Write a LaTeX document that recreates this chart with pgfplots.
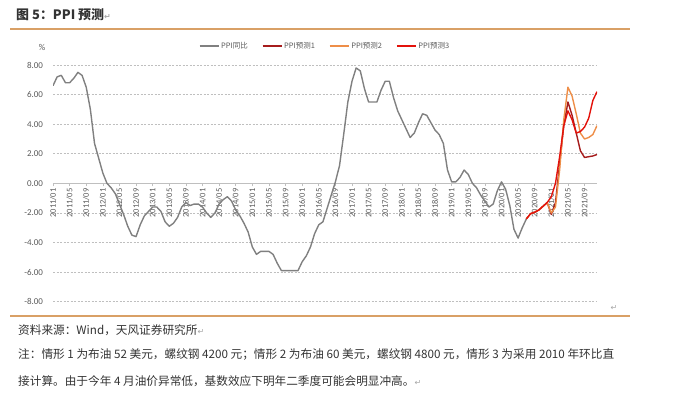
\documentclass[border=0pt]{standalone}
\usepackage{pgfplots}
\pgfplotsset{compat=1.18}
\usepackage{fontspec}
\setmainfont{Noto Sans CJK SC}
\newfontfamily\carlito{Carlito}
\newfontfamily\dejavu{DejaVu Sans}
\definecolor{ppigray}{HTML}{808080}
\definecolor{predA}{HTML}{A61C1C}
\definecolor{predB}{HTML}{EE8E48}
\definecolor{predC}{HTML}{E3120B}
\definecolor{rulec}{HTML}{D9A066}
\definecolor{lblc}{HTML}{595959}
\definecolor{txtc}{HTML}{333333}
\definecolor{gridc}{HTML}{BFBFBF}
\begin{document}
\begin{tikzpicture}
\path[use as bounding box] (0,0) rectangle (675bp,-395bp);
% title
\node[anchor=west, inner sep=0pt, text=txtc, font=\bfseries\fontsize{13}{13}\selectfont] at (16bp,-15bp) {图 5：PPI 预测{\dejavu\fontsize{8}{8}\selectfont\color{gray!70}↵}};
\draw[rulec, line width=1.1bp] (10bp,-29bp) -- (630bp,-29bp);
\node[anchor=center, inner sep=0pt, text=lblc, font=\carlito\fontsize{9}{9}\selectfont] at (42bp,-47bp) {\%};
\begin{axis}[
  at={(53bp,-301.7bp)}, anchor=south west,
  width=544bp, height=236.7bp, scale only axis,
  xmin=0, xmax=131, ymin=-8, ymax=8,
  axis x line=middle, axis y line=left,
  hide obscured x ticks=false,
  x axis line style={draw=gridc, -, line width=0.7bp},
  y axis line style={draw=none},
  ytick={-8,-6,...,8},
  ytick style={draw=none},
  xtick={0,4,...,128},
  xticklabels={2011/01,2011/05,2011/09,2012/01,2012/05,2012/09,2013/01,2013/05,2013/09,2014/01,2014/05,2014/09,2015/01,2015/05,2015/09,2016/01,2016/05,2016/09,2017/01,2017/05,2017/09,2018/01,2018/05,2018/09,2019/01,2019/05,2019/09,2020/01,2020/05,2020/09,2021/01,2021/05,2021/09},
  xtick style={draw=gridc, line width=0.6bp},
  xtick align=outside, major tick length=3bp,
  xticklabel style={rotate=90, anchor=east, text=lblc, font=\carlito\fontsize{8.5}{8.5}\selectfont, inner sep=2bp},
  yticklabel style={text=lblc, font=\carlito\fontsize{9}{9}\selectfont, /pgf/number format/fixed, /pgf/number format/fixed zerofill, /pgf/number format/precision=2, xshift=-5bp},
  /pgf/number format/assume math mode=true,
  ymajorgrids,
  major grid style={gridc, line width=0.6bp, dash pattern=on 2bp off 1.5bp},
  legend style={at={(0.5,1.08)}, anchor=center, draw=none, fill=none, legend columns=4, font=\fontsize{7.5}{7.5}\selectfont, text=lblc, /tikz/every even column/.append style={column sep=12bp}},
  legend image code/.code={\draw[#1] (0bp,0bp) -- (19bp,0bp);},
  every axis plot/.append style={no marks, line width=1.4bp, line join=round},
]
\addplot[ppigray] coordinates {
(0,6.6)(1,7.2)(2,7.3)(3,6.8)(4,6.8)(5,7.1)(6,7.5)(7,7.3)(8,6.5)(9,5.0)(10,2.7)(11,1.7)
(12,0.7)(13,0.0)(14,-0.3)(15,-0.7)(16,-1.4)(17,-2.1)(18,-2.9)(19,-3.5)(20,-3.6)(21,-2.8)(22,-2.2)(23,-1.9)
(24,-1.6)(25,-1.6)(26,-1.9)(27,-2.6)(28,-2.9)(29,-2.7)(30,-2.3)(31,-1.6)(32,-1.3)(33,-1.5)(34,-1.4)(35,-1.4)
(36,-1.6)(37,-2.0)(38,-2.3)(39,-2.0)(40,-1.4)(41,-1.1)(42,-0.9)(43,-1.2)(44,-1.8)(45,-2.2)(46,-2.7)(47,-3.3)
(48,-4.3)(49,-4.8)(50,-4.6)(51,-4.6)(52,-4.6)(53,-4.8)(54,-5.4)(55,-5.9)(56,-5.9)(57,-5.9)(58,-5.9)(59,-5.9)
(60,-5.3)(61,-4.9)(62,-4.3)(63,-3.4)(64,-2.8)(65,-2.6)(66,-1.7)(67,-0.8)(68,0.1)(69,1.2)(70,3.3)(71,5.5)
(72,6.9)(73,7.8)(74,7.6)(75,6.4)(76,5.5)(77,5.5)(78,5.5)(79,6.3)(80,6.9)(81,6.9)(82,5.8)(83,4.9)
(84,4.3)(85,3.7)(86,3.1)(87,3.4)(88,4.1)(89,4.7)(90,4.6)(91,4.1)(92,3.6)(93,3.3)(94,2.7)(95,0.9)
(96,0.1)(97,0.1)(98,0.4)(99,0.9)(100,0.6)(101,0.0)(102,-0.3)(103,-0.8)(104,-1.2)(105,-1.6)(106,-1.4)(107,-0.5)
(108,0.1)(109,-0.4)(110,-1.5)(111,-3.1)(112,-3.7)(113,-3.0)(114,-2.4)
};
\addlegendentry{PPI同比}
\addplot[predA] coordinates {
(114,-2.4)(115,-2.05)(116,-1.95)(117,-1.8)(118,-1.55)(119,-1.3)(120,-2.1)(121,-1.3)(122,1.3)(123,3.9)
(124,5.5)(125,4.6)(126,3.4)(127,2.2)(128,1.75)(129,1.8)(130,1.85)(131,1.95)
};
\addlegendentry{PPI预测1}
\addplot[predB] coordinates {
(114,-2.4)(115,-2.05)(116,-1.95)(117,-1.8)(118,-1.55)(119,-1.3)(120,-2.0)(121,-1.6)(122,0.9)(123,4.3)
(124,6.5)(125,5.9)(126,4.7)(127,3.4)(128,3.0)(129,3.1)(130,3.3)(131,3.9)
};
\addlegendentry{PPI预测2}
\addplot[predC] coordinates {
(114,-2.4)(115,-2.05)(116,-1.95)(117,-1.8)(118,-1.55)(119,-1.3)(120,-0.9)(121,0.0)(122,1.8)(123,3.9)
(124,4.9)(125,4.3)(126,3.4)(127,3.5)(128,3.8)(129,4.4)(130,5.6)(131,6.2)
};
\addlegendentry{PPI预测3}
\end{axis}
\node[anchor=center, inner sep=0pt, text=gray!70, font=\dejavu\fontsize{8}{8}\selectfont] at (614bp,-308bp) {↵};
\draw[rulec, line width=1.1bp] (10bp,-316bp) -- (630bp,-316bp);
\begin{scope}[every node/.style={anchor=west, inner sep=0pt, text=txtc, font=\fontsize{11.7}{11.7}\selectfont}]
\node at (18bp,-330bp) {资料来源：Wind，天风证券研究所{\dejavu\fontsize{8}{8}\selectfont\color{gray!70}↵}};
\node at (18bp,-355bp) {注：情形 1 为布油 52 美元，螺纹钢 4200 元；情形 2 为布油 60 美元，螺纹钢 4800 元，情形 3 为采用 2010 年环比直};
\node at (18bp,-381bp) {接计算。由于今年 4 月油价异常低，基数效应下明年二季度可能会明显冲高。{\dejavu\fontsize{8}{8}\selectfont\color{gray!70}↵}};
\end{scope}
\end{tikzpicture}
\end{document}
